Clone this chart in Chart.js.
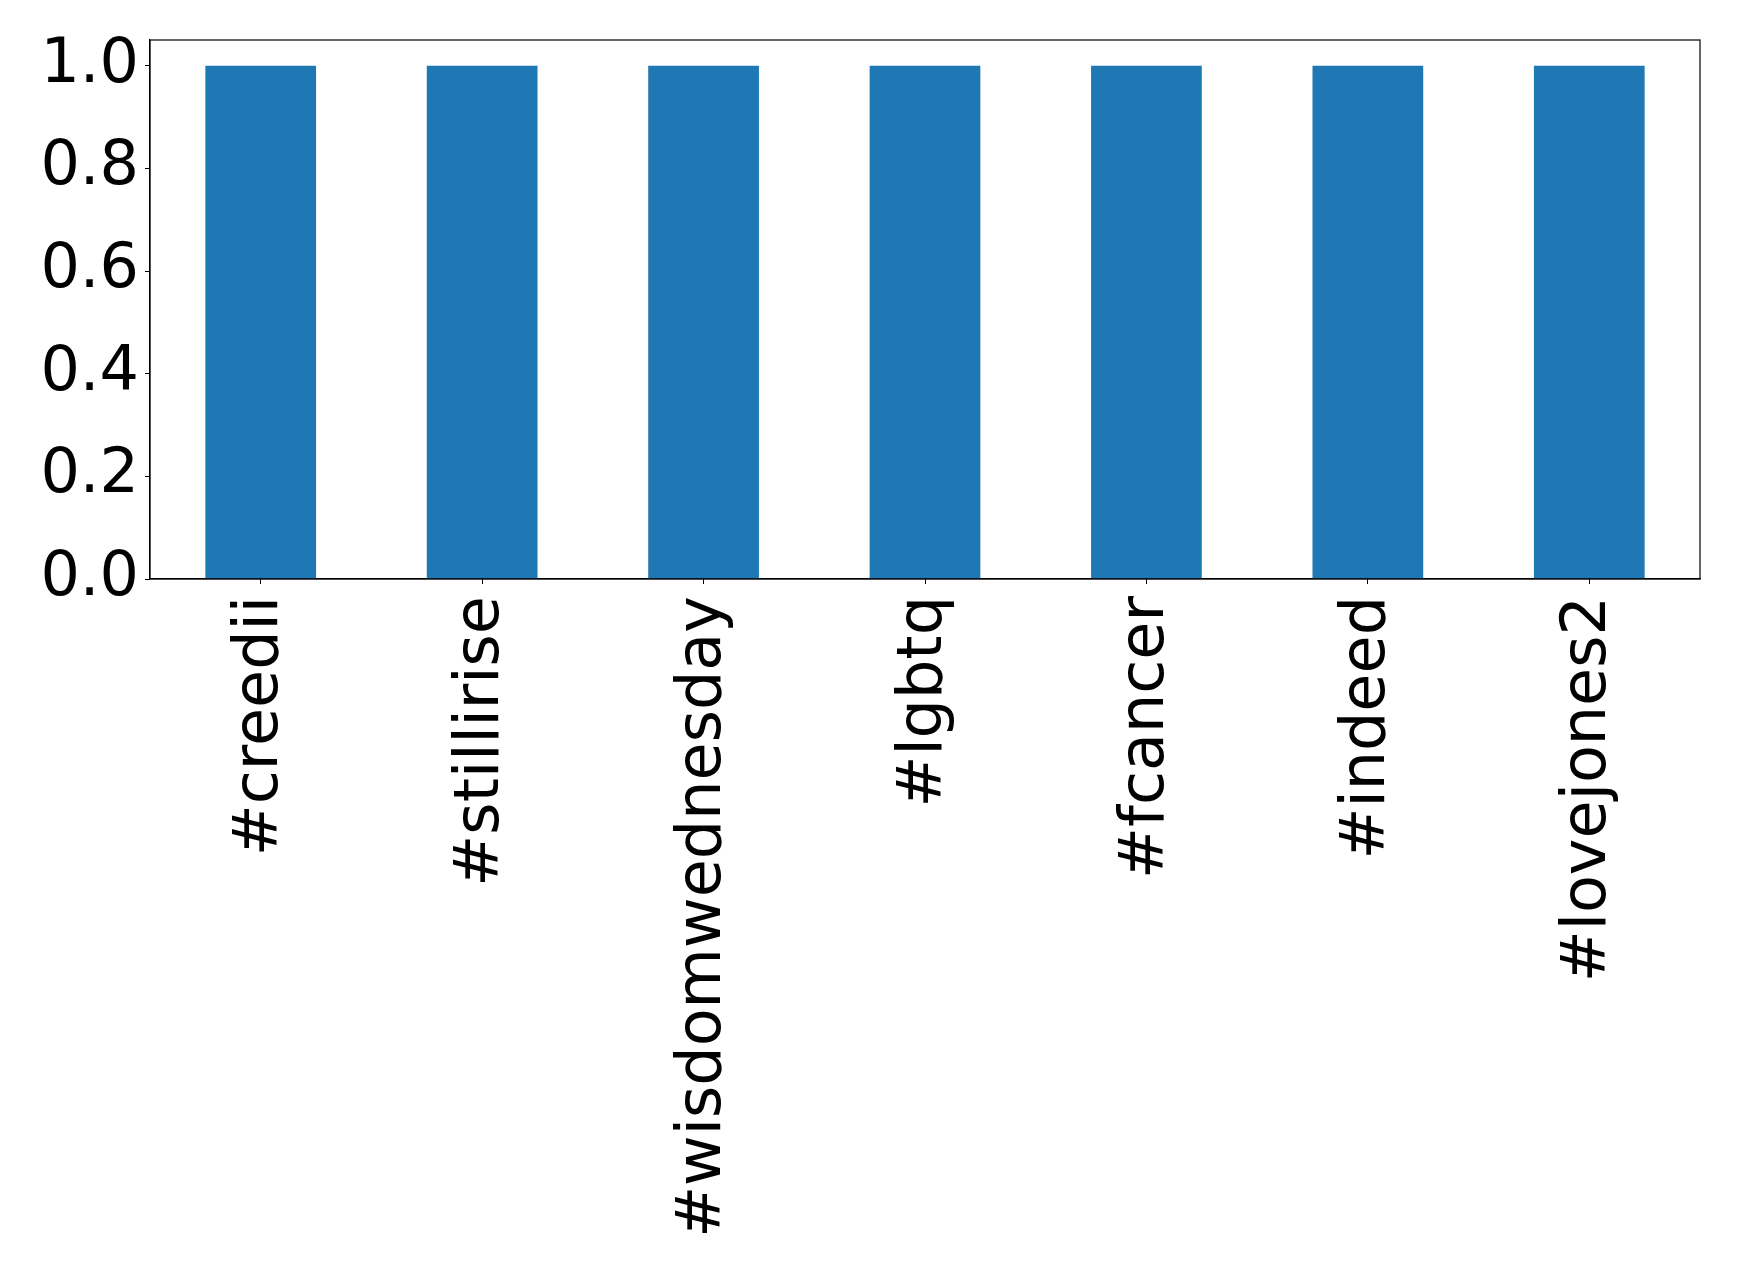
<!DOCTYPE html>
<html>
<head>
<meta charset="utf-8">
<script src="https://cdn.jsdelivr.net/npm/chart.js@4/dist/chart.umd.min.js"></script>
<style>
  html, body { margin: 0; padding: 0; background: #fff; }
  #wrap { width: 1739px; height: 1275px; }
</style>
</head>
<body>
<div id="wrap"><canvas id="chart" width="1739" height="1275"></canvas></div>
<script>
// --- data ---
const hashtags = ['#creedii', '#stillirise', '#wisdomwednesday', '#lgbtq', '#fcancer', '#indeed', '#lovejones2'];
const counts = [1, 1, 1, 1, 1, 1, 1];
const yTicks = [0.0, 0.2, 0.4, 0.6, 0.8, 1.0];

const FONT = "'DejaVu Sans', sans-serif";

// frame around the plot area, like matplotlib's spines
const framePlugin = {
    id: 'frame',
    afterDatasetsDraw(chart) {
        const a = chart.chartArea, ctx = chart.ctx;
        ctx.save();
        ctx.strokeStyle = '#000';
        ctx.lineWidth = 1.2;
        ctx.strokeRect(a.left, a.top, a.right - a.left, a.bottom - a.top);
        ctx.restore();
    }
};

new Chart(document.getElementById('chart').getContext('2d'), {
    type: 'bar',
    data: {
        labels: hashtags,
        datasets: [{
            data: counts,
            backgroundColor: '#1f77b4',
            borderWidth: 0,
            barPercentage: 0.5,
            categoryPercentage: 1.0
        }]
    },
    options: {
        responsive: false,
        animation: false,
        layout: { padding: { top: 40, right: 39, left: 0, bottom: 0 } },
        plugins: { legend: { display: false }, tooltip: { enabled: false } },
        scales: {
            x: {
                grid: { display: true, offset: false, drawOnChartArea: false, drawTicks: true, tickLength: 5, color: '#000' },
                border: { display: true, color: '#000', width: 1.2 },
                ticks: {
                    color: '#000',
                    font: { family: FONT, size: 62 },
                    minRotation: 90,
                    maxRotation: 90,
                    padding: 12,
                    autoSkip: false
                },
                afterFit(scale) { scale.height = 696; }
            },
            y: {
                min: 0,
                max: 1.05,
                grid: { display: true, drawOnChartArea: false, drawTicks: true, tickLength: 5, color: '#000' },
                border: { display: true, color: '#000', width: 1.2 },
                afterBuildTicks(scale) { scale.ticks = yTicks.map(v => ({ value: v })); },
                ticks: {
                    color: '#000',
                    font: { family: FONT, size: 62 },
                    padding: 6,
                    callback: v => Number(v).toFixed(1)
                },
                afterFit(scale) {
                    scale.width = 150;
                    scale.paddingTop = 0;
                    scale.paddingBottom = 0;
                }
            }
        }
    },
    plugins: [framePlugin]
});
</script>
</body>
</html>
